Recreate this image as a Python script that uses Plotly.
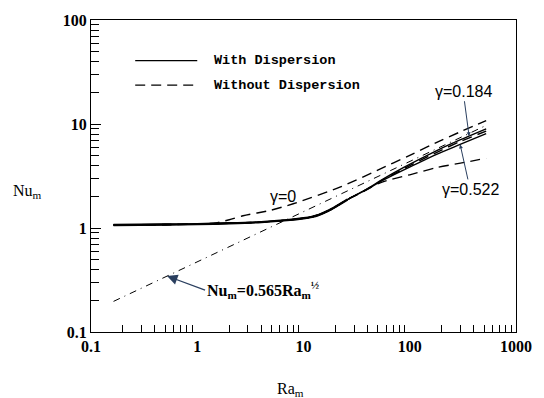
import numpy as np
import plotly.graph_objects as go

# ---- data (Ra_m, Nu_m) ----
# asymptote Nu_m = 0.565 Ra_m^(1/2)
asym_ra = [0.163, 524]
asym_nu = [0.197, 9.7]

# gamma = 0 (without dispersion)
g0_ra = [0.163, 0.5, 1, 1.5, 2, 2.7, 4.9, 8, 22, 50, 100, 200, 524]
g0_nu = [1.07, 1.075, 1.09, 1.12, 1.20, 1.31, 1.48, 1.71, 2.47, 3.60, 5.00, 7.00, 10.8]

# common low-Ra branch shared by all gamma > 0 curves
band_ra = [0.163, 0.5, 1, 2, 4, 7, 10, 12, 14, 17, 20, 26]
band_nu = [1.07, 1.08, 1.09, 1.11, 1.14, 1.19, 1.24, 1.28, 1.34, 1.46, 1.60, 1.88]

# gamma = 0.184 with dispersion (solid)
g184_wd_ra = [38, 55, 87, 170, 250, 524]
g184_wd_nu = [2.32, 2.92, 3.80, 5.40, 6.50, 8.96]

# gamma = 0.522 with dispersion (solid)
g522_wd_ra = [38, 55, 87, 170, 298, 524]
g522_wd_nu = [2.30, 2.85, 3.60, 5.00, 6.36, 8.09]

# gamma = 0.184 without dispersion (dashed)
g184_nod_ra = [38, 55, 87, 170, 300, 524]
g184_nod_nu = [2.31, 2.88, 3.70, 5.20, 6.80, 8.55]

# gamma = 0.522 without dispersion (dashed)
g522_nod_ra = [38, 52.7, 100, 181, 300, 524]
g522_nod_nu = [2.28, 2.72, 3.25, 3.82, 4.20, 4.68]

x_ticks = [0.1, 1, 10, 100, 1000]
x_tick_text = ["0.1", "1", "10", "100", "1000"]
y_ticks = [0.1, 1, 10, 100]
y_tick_text = ["0.1", "1", "10", "100"]

fig = go.Figure()
blk = "black"
DASH = "10px,6px"

def add(ra, nu, dash, width=1.2):
    fig.add_trace(go.Scatter(x=ra, y=nu, mode="lines", showlegend=False, hoverinfo="skip",
                             line=dict(color=blk, width=width, dash=dash,
                                       shape="spline", smoothing=0.7)))

add(asym_ra, asym_nu, "7px,5px,1px,5px", 1.0)
add(g0_ra, g0_nu, DASH, 1.4)
add(band_ra + g184_nod_ra, band_nu + g184_nod_nu, DASH, 1.4)
add(band_ra + g522_nod_ra, band_nu + g522_nod_nu, DASH, 1.3)
add(band_ra + g184_wd_ra, band_nu + g184_wd_nu, "solid", 1.4)
add(band_ra + g522_wd_ra, band_nu + g522_wd_nu, "solid", 1.4)
add(band_ra, band_nu, "solid", 2.4)

minor_x = [k * 10.0 ** e for e in range(-1, 3) for k in range(2, 10)]
minor_y = [k * 10.0 ** e for e in range(-1, 2) for k in range(2, 10)]

tickfont = dict(family="Liberation Serif", size=16, color=blk)
fig.update_xaxes(type="log", range=[-1, 3], tickvals=x_ticks,
                 ticktext=["<b>%s</b>" % t for t in x_tick_text],
                 ticks="", showline=True, linecolor=blk,
                 linewidth=1.3, mirror=True, showgrid=False, zeroline=False,
                 tickfont=tickfont,
                 minor=dict(tickmode="array", tickvals=minor_x, ticks="inside", ticklen=7,
                            tickcolor=blk, tickwidth=1, showgrid=False))
fig.update_yaxes(type="log", range=[-1, 2], tickvals=y_ticks,
                 ticktext=["<b>%s</b>" % t for t in y_tick_text],
                 ticks="inside", ticklen=10, tickcolor=blk, tickwidth=1.2, showline=True,
                 linecolor=blk, linewidth=1.3, mirror=True, showgrid=False, zeroline=False,
                 tickfont=tickfont,
                 minor=dict(tickmode="array", tickvals=minor_y, ticks="inside", ticklen=8,
                            tickcolor=blk, tickwidth=1.2, showgrid=False))

# legend drawn manually
lgfont = dict(family="Liberation Mono", size=13.5, color=blk)
fig.add_shape(type="line", xref="paper", yref="paper", x0=0.104, x1=0.250, y0=0.870, y1=0.870,
              line=dict(color=blk, width=1.2))
fig.add_shape(type="line", xref="paper", yref="paper", x0=0.104, x1=0.250, y0=0.791, y1=0.791,
              line=dict(color=blk, width=1.2, dash=DASH))
fig.add_annotation(xref="paper", yref="paper", x=0.284, y=0.870, text="<b>With Dispersion</b>",
                   showarrow=False, xanchor="left", yanchor="middle", font=lgfont)
fig.add_annotation(xref="paper", yref="paper", x=0.284, y=0.791, text="<b>Without Dispersion</b>",
                   showarrow=False, xanchor="left", yanchor="middle", font=lgfont)

lbl = dict(family="Liberation Sans", size=16, color=blk)
fig.add_annotation(x=np.log10(6.4), y=np.log10(2.0), text="γ=0", showarrow=False, font=lbl)
fig.add_annotation(x=np.log10(362), y=np.log10(7.63), ax=-6, ay=-45,
                   text="γ=0.184", showarrow=True, arrowhead=2, arrowsize=0.8, arrowwidth=1,
                   font=lbl)
fig.add_annotation(x=np.log10(298), y=np.log10(6.36), ax=10, ay=45,
                   text="γ=0.522", showarrow=True, arrowhead=2, arrowsize=0.8, arrowwidth=1,
                   font=lbl)
fig.add_annotation(x=np.log10(0.52), y=np.log10(0.345), ax=38, ay=14,
                   text="<b>Nu<sub>m</sub>=0.565Ra<sub>m</sub><sup>½</sup></b>", showarrow=True,
                   arrowhead=2, arrowsize=1.6, arrowwidth=1.3, xanchor="left",
                   font=dict(family="Liberation Serif", size=16, color=blk))

fig.add_annotation(xref="paper", yref="paper", x=-0.15, y=0.45, text="Nu<sub>m</sub>",
                   xanchor="center", yanchor="middle",
                   showarrow=False, font=dict(family="Liberation Serif", size=16, color=blk))
fig.add_annotation(xref="paper", yref="paper", x=0.469, y=-0.184, text="Ra<sub>m</sub>",
                   xanchor="center", yanchor="middle",
                   showarrow=False, font=dict(family="Liberation Serif", size=16, color=blk))

fig.update_layout(width=544, height=398, margin=dict(l=91, r=28, t=16, b=66),
                  paper_bgcolor="white", plot_bgcolor="white", showlegend=False)
fig.write_html("out.html")
